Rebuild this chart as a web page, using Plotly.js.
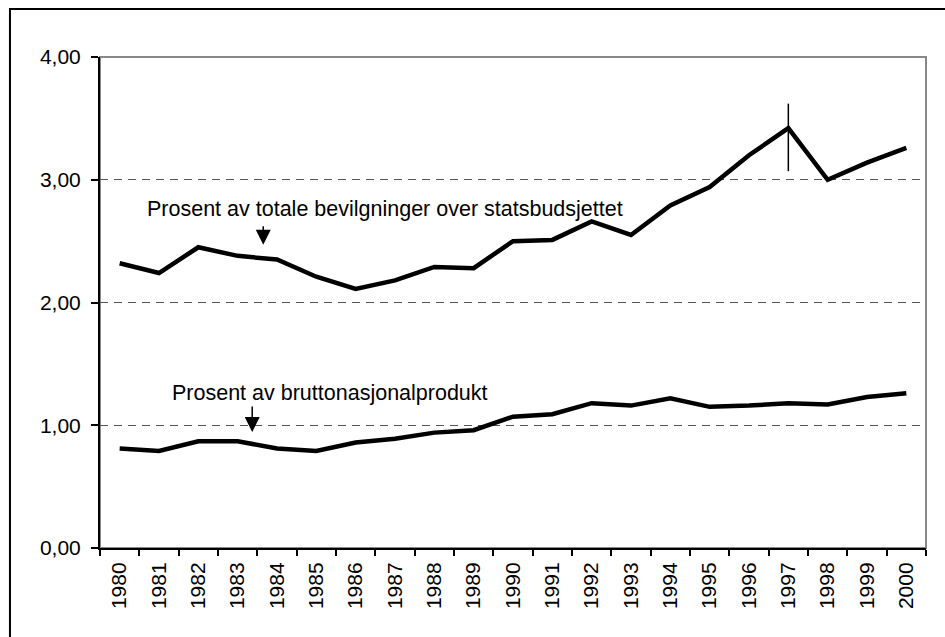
<!DOCTYPE html>
<html>
<head>
<meta charset="utf-8">
<script src="https://cdn.plot.ly/plotly-3.0.1.min.js"></script>
<style>
  html, body { margin: 0; padding: 0; background: #fff; }
  #chart { width: 945px; height: 637px; }
</style>
</head>
<body>
<div id="chart"></div>
<script>
var years = ['1980', '1981', '1982', '1983', '1984', '1985', '1986', '1987', '1988', '1989', '1990',
             '1991', '1992', '1993', '1994', '1995', '1996', '1997', '1998', '1999', '2000'];

// andel av totale bevilgninger over statsbudsjettet
var budgetShare = [2.32, 2.24, 2.45, 2.38, 2.35, 2.21, 2.11, 2.18, 2.29, 2.28, 2.50,
                   2.51, 2.66, 2.55, 2.79, 2.94, 3.20, 3.42, 3.00, 3.14, 3.26];

// andel av bruttonasjonalprodukt
var gdpShare = [0.81, 0.79, 0.87, 0.87, 0.81, 0.79, 0.86, 0.89, 0.94, 0.96, 1.07,
                1.09, 1.18, 1.16, 1.22, 1.15, 1.16, 1.18, 1.17, 1.23, 1.26];

// loddrett strek ved 1997
var markYears = ['1997', '1997'];
var markValues = [3.62, 3.07];

var yTicks = [0, 1, 2, 3, 4];

var font = 'Liberation Sans, Arial, sans-serif';

var lineBudget = {
    x: years,
    y: budgetShare,
    mode: 'lines',
    line: {color: '#000', width: 4.5},
    hoverinfo: 'skip'
};
var lineGdp = {
    x: years,
    y: gdpShare,
    mode: 'lines',
    line: {color: '#000', width: 4.5},
    hoverinfo: 'skip'
};
var mark = {
    x: markYears,
    y: markValues,
    mode: 'lines',
    line: {color: '#000', width: 1.5},
    hoverinfo: 'skip'
};

var layout = {
    width: 945,
    height: 637,
    margin: {l: 100, r: 19, t: 57, b: 89},
    paper_bgcolor: '#fff',
    plot_bgcolor: '#fff',
    showlegend: false,
    separators: ', ',
    font: {family: font, size: 21, color: '#000'},
    xaxis: {
        type: 'category',
        range: [-0.5, 20.5],
        tickson: 'boundaries',
        ticks: 'outside',
        ticklen: 6,
        tickwidth: 2,
        tickcolor: '#000',
        tickangle: -90,
        tickfont: {family: font, size: 21, color: '#000'},
        ticklabelstandoff: 4,
        showline: true,
        linecolor: '#000',
        linewidth: 2,
        showgrid: false,
        zeroline: false,
        fixedrange: true
    },
    yaxis: {
        range: [0, 4],
        tickvals: yTicks,
        tickformat: '.2f',
        ticks: 'outside',
        ticklen: 7,
        tickwidth: 2,
        tickcolor: '#000',
        tickfont: {family: font, size: 21, color: '#000'},
        ticklabelstandoff: 6,
        showline: true,
        linecolor: '#000',
        linewidth: 2,
        showgrid: true,
        gridcolor: '#555',
        gridwidth: 1,
        griddash: '8px,6px',
        zeroline: false,
        fixedrange: true
    },
    shapes: [
        {type: 'rect', xref: 'paper', yref: 'paper', x0: 0, x1: 1, y0: 0, y1: 1,
         line: {color: '#888', width: 2}, layer: 'between'},
        {type: 'rect', xref: 'paper', yref: 'paper', x0: -0.109, x1: 1.4, y0: -0.4, y1: 1.098,
         line: {color: '#000', width: 2}, layer: 'below'}
    ],
    annotations: [
        {x: 6.75, y: 2.76, xref: 'x', yref: 'y', showarrow: false,
         text: 'Prosent av totale bevilgninger over statsbudsjettet',
         font: {family: font, size: 21.5, color: '#000'}},
        {x: 3.65, y: 2.47, xref: 'x', yref: 'y', text: '', showarrow: true,
         ax: 0, ay: -20, arrowhead: 2, arrowsize: 2, arrowwidth: 1.5, arrowcolor: '#000'},
        {x: 5.35, y: 1.26, xref: 'x', yref: 'y', showarrow: false,
         text: 'Prosent av bruttonasjonalprodukt',
         font: {family: font, size: 21.5, color: '#000'}},
        {x: 3.37, y: 0.945, xref: 'x', yref: 'y', text: '', showarrow: true,
         ax: 0, ay: -27, arrowhead: 2, arrowsize: 2, arrowwidth: 1.5, arrowcolor: '#000'}
    ]
};

Plotly.newPlot('chart', [lineBudget, lineGdp, mark], layout, {displayModeBar: false, staticPlot: true});
</script>
</body>
</html>
